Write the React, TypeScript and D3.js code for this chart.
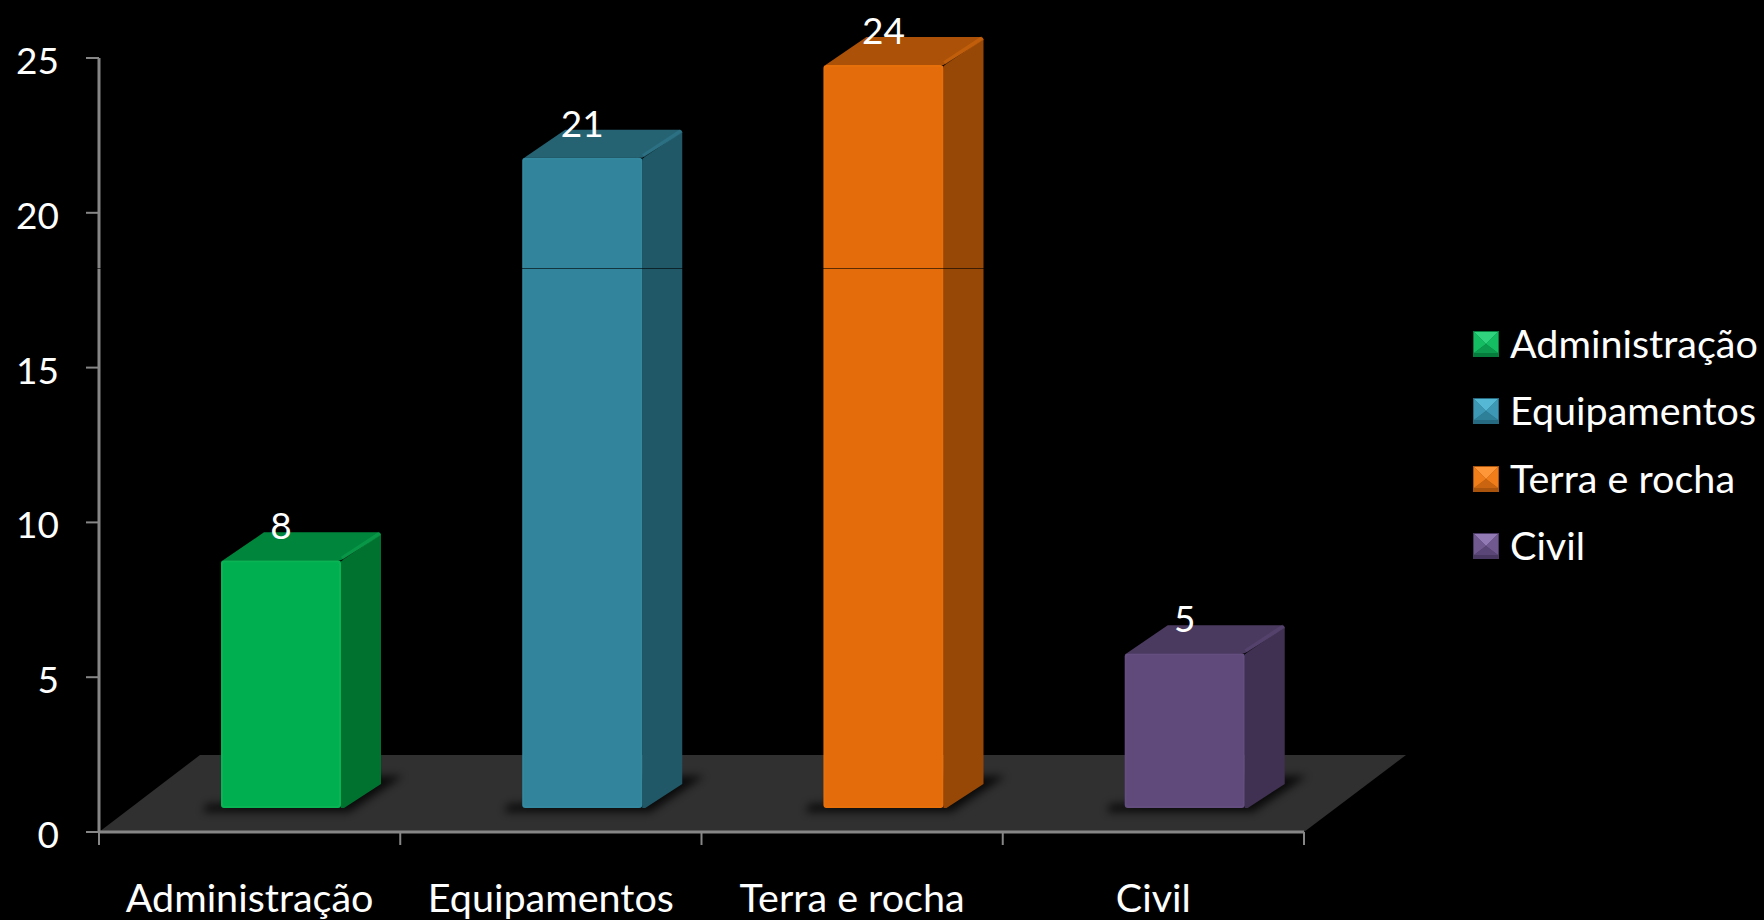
import React from "react";
import * as d3 from "d3";

const categories = ["Administração", "Equipamentos", "Terra e rocha", "Civil"];
const values = [8, 21, 24, 5];
const yTicks = [0, 5, 10, 15, 20, 25];
const frontColors = ["#00B050", "#31849B", "#E46C0A", "#604A7B"];
const topColors = ["#00853C", "#256373", "#AB5208", "#4B3A60"];
const sideColors = ["#00722F", "#205867", "#974806", "#403152"];
const edgeColors = ["#1DBE63", "#3B91A9", "#F27A12", "#6C5688"];
const swatchLight = ["#30D47F", "#55B8D4", "#FF9638", "#927AB4"];
const swatchMid = ["#14BC62", "#3C98B4", "#F07C1A", "#70598F"];
const swatchDark = ["#0C9A4E", "#2E7F98", "#CB6410", "#5B4777"];
const swatchBottom = ["#067C3C", "#256A80", "#A9530C", "#493962"];

const FONT = "Lato, Carlito, sans-serif";
const FS = 39.5;
const y = d3.scaleLinear().domain([0, 25]).range([832, 58]);
const x = d3.scaleBand<string>().domain(categories).range([99, 1304]);
const BAR_W = 120;
const DX = 40;
const DY = 28;
const BASE_SHIFT_Y = 24;
const BAR_SHIFT_X = 122;

function pts(list: number[][]) {
  return list.map((p) => p.join(",")).join(" ");
}

function Bar({ i }: { i: number }) {
  const cat = categories[i];
  const x0 = (x(cat) as number) + BAR_SHIFT_X;
  const x1 = x0 + BAR_W;
  const base = y(0) - BASE_SHIFT_Y;
  const top = y(values[i]) - BASE_SHIFT_Y;
  return (
    <g>
      <polygon
        points={pts([
          [x0 - 18, base + 4],
          [x1 + 8, base + 4],
          [x1 + DX + 22, base - DY - 4],
          [x1, base - DY - 4],
          [x0, base - 4],
          [x0 - 14, base - 4],
        ])}
        fill="#000"
        opacity={0.8}
        filter="url(#soft)"
      />
      <path
        d={`M${x0 + 2},${top} L${x0 + DX + 3},${top - DY} L${x1 + DX - 3},${top - DY} Q${x1 + DX},${top - DY} ${x1 + DX},${top - DY + 3} L${x1},${top} Z`}
        fill={topColors[i]}
      />
      <path
        d={`M${x1},${top + 1} L${x1 + DX},${top - DY + 2} L${x1 + DX},${base - DY + 4} L${x1 + 3},${base} L${x1},${base} Z`}
        fill={sideColors[i]}
      />
      <line x1={x1 + 1} y1={top - 2} x2={x1 + DX - 1} y2={top - DY + 1} stroke={edgeColors[i]} strokeWidth={4} opacity={0.3} />
      <rect x={x0} y={top} width={BAR_W} height={base - top} rx={3} fill={frontColors[i]} />
      <rect x={x0 + 1} y={top + 1} width={BAR_W - 2} height={base - top - 2} rx={3} fill="none" stroke={edgeColors[i]} strokeWidth={2} opacity={0.3} />
    </g>
  );
}

function Swatch({ i, cx, cy }: { i: number; cx: number; cy: number }) {
  const r = 13;
  const b = 4;
  const L = cx - r, R = cx + r, T = cy - r, B = cy + r;
  return (
    <g>
      <rect x={L} y={T} width={r * 2} height={r * 2} fill={swatchBottom[i]} />
      <polygon points={pts([[L + 1, T + 1], [R - 1, T + 1], [cx, cy]])} fill={swatchLight[i]} />
      <polygon points={pts([[L + 1, T + 1], [cx, cy], [L + 1, B - b]])} fill={swatchMid[i]} />
      <polygon points={pts([[R - 1, T + 1], [cx, cy], [R - 1, B - b]])} fill={swatchMid[i]} />
      <polygon points={pts([[L + 1, B - b], [R - 1, B - b], [cx, cy]])} fill={swatchDark[i]} />
    </g>
  );
}

export default function App() {
  const legendY = [345, 412, 480, 547];
  const floorFront = y(0);
  const floorBack = 755;
  const xTickPositions = [...categories.map((c) => x(c) as number), 1304];
  return (
    <svg
      width={1764}
      height={920}
      viewBox="0 0 1764 920"
      style={{ position: "absolute", left: 0, top: 0, background: "#000", display: "block" }}
      fontFamily={FONT}
    >
      <defs>
        <filter id="soft" x="-40%" y="-100%" width="180%" height="300%">
          <feGaussianBlur stdDeviation="4" />
        </filter>
      </defs>
      <rect width={1764} height={920} fill="#000" />

      <polygon
        points={pts([[99, floorFront], [200, floorBack], [1406, floorBack], [1304, floorFront]])}
        fill="#303030"
      />

      {categories.map((_, i) => (
        <Bar key={i} i={i} />
      ))}

      <line x1={99} x2={99} y1={y(25)} y2={y(0)} stroke="#868686" strokeWidth={3} />
      <line x1={99} x2={1304} y1={y(0)} y2={y(0)} stroke="#868686" strokeWidth={3} />
      {yTicks.map((t) => (
        <g key={t}>
          <line x1={86} x2={99} y1={y(t)} y2={y(t)} stroke="#868686" strokeWidth={2} />
          <text x={59} y={y(t) + 16} textAnchor="end" fill="#fff" fontSize={37}>
            {t}
          </text>
        </g>
      ))}
      {xTickPositions.map((p) => (
        <line key={p} x1={p} x2={p} y1={y(0)} y2={845} stroke="#868686" strokeWidth={2} />
      ))}
      {categories.map((c) => (
        <text
          key={c}
          x={(x(c) as number) + x.bandwidth() / 2}
          y={912}
          textAnchor="middle"
          fill="#fff"
          fontSize={FS}
        >
          {c}
        </text>
      ))}

      <line x1={90} x2={1000} y1={268.5} y2={268.5} stroke="#000" strokeOpacity={0.6} strokeWidth={1} />

      {values.map((v, i) => (
        <text
          key={categories[i]}
          x={(x(categories[i]) as number) + BAR_SHIFT_X + BAR_W / 2}
          y={y(v) - BASE_SHIFT_Y - 21}
          textAnchor="middle"
          fill="#fff"
          fontSize={37}
        >
          {v}
        </text>
      ))}

      {categories.map((c, i) => (
        <g key={c}>
          <Swatch i={i} cx={1486} cy={legendY[i] - 1} />
          <text x={1510} y={legendY[i] + 13} fill="#fff" fontSize={FS}>
            {c}
          </text>
        </g>
      ))}
    </svg>
  );
}
